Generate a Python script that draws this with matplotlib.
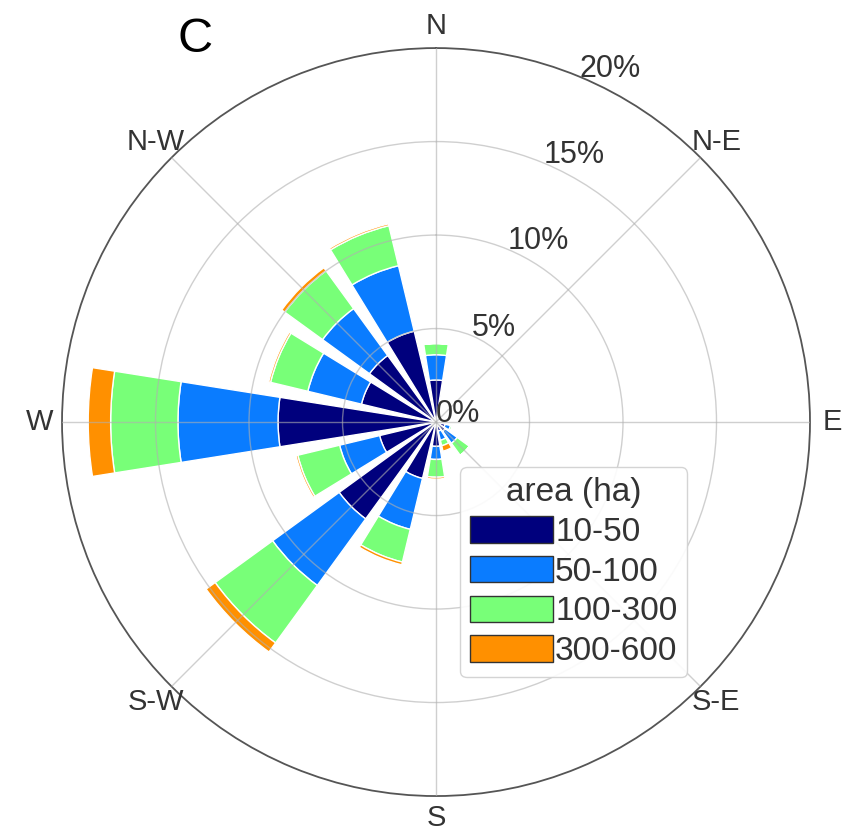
import numpy as np
import matplotlib.pyplot as plt
from matplotlib.patches import Patch

plt.rcParams['font.family'] = ['Liberation Sans', 'DejaVu Sans']

# 16 compass sectors, clockwise from north
directions = [0, 22.5, 45, 67.5, 90, 112.5, 135, 157.5,
              180, 202.5, 225, 247.5, 270, 292.5, 315, 337.5]

# share of fires (%) per area class, per sector
area_10_50 = [2.25, 0.3, 0.2, 0.2, 0.2, 0.5, 0.6, 0.5,
              1.3, 3.1, 6.4, 3.1, 8.45, 4.1, 4.4, 5.0]
area_50_100 = [1.35, 0.1, 0.1, 0.0, 0.1, 0.3, 0.8, 0.5,
               0.7, 2.8, 4.4, 2.2, 5.35, 2.95, 3.1, 3.6]
area_100_300 = [0.6, 0.0, 0.0, 0.0, 0.0, 0.1, 0.8, 0.3,
                0.95, 1.8, 3.8, 2.3, 3.6, 2.05, 2.5, 2.2]
area_300_600 = [0.0, 0.0, 0.0, 0.0, 0.0, 0.0, 0.0, 0.3,
                0.1, 0.15, 0.6, 0.1, 1.2, 0.1, 0.2, 0.1]

class_labels = ['10-50', '50-100', '100-300', '300-600']
class_colors = ['#00007d', '#0a7cff', '#78ff78', '#ff9000']

compass_angles = [0, 45, 90, 135, 180, 225, 270, 315]
compass_names = ['N', 'N-E', 'E', 'S-E', 'S', 'S-W', 'W', 'N-W']

ring_values = [0, 5, 10, 15, 20]

fig = plt.figure(figsize=(8.61, 8.36), dpi=100)
ax = fig.add_axes([0.072, 0.0478, 0.8688, 0.8947], projection='polar')
ax.set_theta_zero_location('N')
ax.set_theta_direction(-1)

theta = np.deg2rad(directions)
width = np.deg2rad(18)
bottom = np.zeros(len(directions))
series = [area_10_50, area_50_100, area_100_300, area_300_600]
for vals, col in zip(series, class_colors):
    vals = np.array(vals)
    ax.bar(theta, vals, width=width, bottom=bottom, color=col,
           edgecolor='white', linewidth=1, zorder=1)
    bottom += vals

ax.set_ylim(0, 20)
ax.set_yticks([5, 10, 15])
ax.set_yticklabels([])
ax.set_xticks(np.deg2rad(compass_angles))
ax.set_xticklabels([])
ax.grid(True, color='#b0b0b0', linewidth=1, alpha=0.6)
ax.set_axisbelow(False)
ax.spines['polar'].set_color('#555555')
ax.spines['polar'].set_linewidth(1.3)

# ring labels along the 22.5 deg line
for v in ring_values:
    ax.text(np.deg2rad(22.5), v, '%d%%' % v, ha='left', va='baseline',
            fontsize=22, color='#333333', zorder=5)

# compass labels outside the circle
for a, name in zip(compass_angles, compass_names):
    ax.text(np.deg2rad(a), 21.2, name, ha='center', va='center',
            fontsize=21, color='#333333', clip_on=False)

handles = [Patch(facecolor=c, edgecolor='#333333', linewidth=1) for c in class_colors]
leg = fig.legend(handles, class_labels, title='area (ha)', loc='upper left',
                 bbox_to_anchor=(460 / 861, 1 - 467 / 836), borderaxespad=0,
                 fontsize=24, title_fontsize=24, handlelength=2.5,
                 handleheight=0.85, handletextpad=0.05, labelspacing=0.24,
                 borderpad=0.3, frameon=True, fancybox=True, framealpha=0.9,
                 edgecolor='#d0d0d0')
for t in leg.get_texts():
    t.set_color('#333333')
leg.get_title().set_color('#333333')

fig.text(195 / 861, 1 - 40 / 836, 'C', fontsize=35, ha='center', va='center')

plt.savefig('out.png', dpi=100)
